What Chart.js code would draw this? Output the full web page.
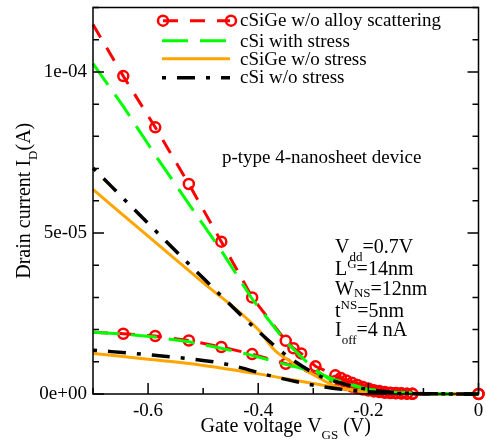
<!DOCTYPE html>
<html>
<head>
<meta charset="utf-8">
<script src="https://cdn.jsdelivr.net/npm/chart.js@4.4.1/dist/chart.umd.min.js"></script>
<style>
  html, body { margin: 0; padding: 0; background: #fff; }
  canvas { display: block; }
</style>
</head>
<body>
<canvas id="iv-chart" width="486" height="445"></canvas>
<script>
// gate voltage (V) and drain current (in units of 1e-5 A)
const vgsRedUp = [-0.70, -0.645, -0.587, -0.526, -0.467, -0.411, -0.350, -0.336, -0.322, -0.296, -0.26, -0.25, -0.24, -0.23, -0.22, -0.21, -0.20, -0.19, -0.18, -0.17, -0.16, -0.15, -0.14, -0.13, -0.12, 0];
const idRedUp  = [11.47, 9.87, 8.28, 6.52, 4.73, 3.00, 1.65, 1.42, 1.26, 0.86, 0.58, 0.50, 0.42, 0.35, 0.28, 0.22, 0.17, 0.12, 0.09, 0.06, 0.04, 0.03, 0.02, 0.01, 0.005, 0];
const vgsRedLo = [-0.70, -0.645, -0.587, -0.526, -0.467, -0.411, -0.350, -0.26, -0.25, -0.24, -0.23, -0.22, -0.21, -0.20, -0.19, -0.18, -0.17, -0.16, -0.15, -0.14, -0.13, -0.12, 0];
const idRedLo  = [1.92, 1.87, 1.80, 1.66, 1.46, 1.24, 0.94, 0.40, 0.34, 0.28, 0.23, 0.18, 0.14, 0.11, 0.08, 0.06, 0.04, 0.03, 0.02, 0.015, 0.01, 0.005, 0];

const vgsGreenUp = [-0.70, -0.645, -0.587, -0.526, -0.467, -0.411, -0.350, -0.30, -0.27, -0.24, -0.20, -0.15, -0.10, 0];
const idGreenUp  = [10.26, 8.93, 7.42, 5.90, 4.45, 2.95, 1.62, 0.80, 0.45, 0.32, 0.14, 0.04, 0.01, 0];
const vgsGreenLo = [-0.70, -0.645, -0.587, -0.526, -0.467, -0.411, -0.350, -0.30, -0.26, -0.236, -0.20, -0.15, -0.10, 0];
const idGreenLo  = [1.92, 1.86, 1.77, 1.62, 1.42, 1.20, 0.92, 0.70, 0.44, 0.33, 0.13, 0.04, 0.01, 0];

const vgsOrangeUp = [-0.70, -0.60, -0.50, -0.40, -0.37, -0.345, -0.30, -0.258, -0.22, -0.18, -0.14, -0.10, 0];
const idOrangeUp  = [6.35, 4.90, 3.46, 2.00, 1.36, 1.05, 0.60, 0.23, 0.10, 0.05, 0.02, 0.01, 0];
const vgsOrangeLo = [-0.70, -0.60, -0.525, -0.405, -0.285, -0.24, -0.20, -0.15, -0.10, 0];
const idOrangeLo  = [1.26, 1.08, 0.95, 0.64, 0.28, 0.15, 0.08, 0.03, 0.01, 0];

const vgsBlackUp = [-0.70, -0.60, -0.50, -0.40, -0.345, -0.285, -0.258, -0.22, -0.18, -0.14, -0.10, 0];
const idBlackUp  = [7.02, 5.30, 3.60, 1.95, 1.15, 0.53, 0.38, 0.20, 0.09, 0.03, 0.01, 0];
const vgsBlackLo = [-0.70, -0.60, -0.465, -0.369, -0.285, -0.24, -0.20, -0.15, -0.10, 0];
const idBlackLo  = [1.36, 1.22, 0.95, 0.53, 0.23, 0.13, 0.07, 0.02, 0.01, 0];

const legendLabels = ['cSiGe w/o alloy scattering', 'cSi with stress', 'cSiGe w/o stress', 'cSi w/o stress'];

const FONT = "'Liberation Serif', 'Times New Roman', serif";
const RED = '#ff0000', GREEN = '#00ff00', ORANGE = '#ffa500', BLACK = '#000000';

function pts(xs, ys) {
  return xs.map((x, i) => ({ x: x, y: ys[i] }));
}

// 1e-5 units -> "1e-04" style label
function sciLabel(k) {
  if (k === 0) return '0e+00';
  const v = k * 1e-5;
  const e = Math.floor(Math.log10(v) + 1e-9);
  const m = Math.round(v / Math.pow(10, e));
  return m + 'e' + (e < 0 ? '-' : '+') + String(Math.abs(e)).padStart(2, '0');
}

const redStyle = {
  borderColor: RED, borderWidth: 3, borderDash: [15, 12],
  pointRadius: c => (c.raw && c.raw.x <= -0.7) ? 0 : 5,
  pointBorderColor: RED, pointBackgroundColor: 'rgba(0,0,0,0)', pointBorderWidth: 2.5,
  order: 3
};
const greenStyle = { borderColor: GREEN, borderWidth: 3, borderDash: [26, 12], pointRadius: 0, order: 1 };
const orangeStyle = { borderColor: ORANGE, borderWidth: 3, pointRadius: 0, order: 2 };
const blackStyle = { borderColor: BLACK, borderWidth: 3.5, borderDash: [4, 11, 18, 11], pointRadius: 0, order: 0 };

// draw "main_sub rest" pieces: [text, size, dy]
function drawRich(ctx, x, y, parts, align) {
  let w = 0;
  parts.forEach(p => { ctx.font = p[1] + 'px ' + FONT; w += ctx.measureText(p[0]).width; });
  let cx = align === 'center' ? x - w / 2 : x;
  ctx.textAlign = 'left';
  ctx.textBaseline = 'alphabetic';
  parts.forEach(p => {
    ctx.font = p[1] + 'px ' + FONT;
    ctx.fillText(p[0], cx, y + (p[2] || 0));
    cx += ctx.measureText(p[0]).width;
  });
}

const frameAndText = {
  id: 'frameAndText',
  afterDraw(chart) {
    const { ctx, chartArea: a, scales: { x, y } } = chart;
    ctx.save();
    ctx.strokeStyle = '#000';
    ctx.lineWidth = 1.5;
    ctx.setLineDash([]);
    ctx.strokeRect(a.left, a.top, a.right - a.left, a.bottom - a.top);

    // inward tick marks
    ctx.beginPath();
    x.ticks.forEach(t => {
      const px = x.getPixelForValue(t.value);
      const len = t.label ? 11 : 6;
      ctx.moveTo(px, a.bottom); ctx.lineTo(px, a.bottom - len);
    });
    y.ticks.forEach(t => {
      const py = y.getPixelForValue(t.value);
      const len = t.label ? 11 : 6;
      ctx.moveTo(a.left, py); ctx.lineTo(a.left + len, py);
      ctx.moveTo(a.right, py); ctx.lineTo(a.right - len, py);
    });
    ctx.stroke();

    // legend
    const rowsLine = [20.7, 40.7, 58.7, 77.7];
    const rowsText = [26, 47, 65, 82.5];
    const dsIdx = [0, 2, 4, 6];
    const x0 = 162, x1 = 230;
    ctx.fillStyle = '#000';
    legendLabels.forEach((lab, i) => {
      const ds = chart.data.datasets[dsIdx[i]];
      ctx.strokeStyle = ds.borderColor;
      ctx.lineWidth = ds.borderWidth;
      ctx.setLineDash(ds.borderDash || []);
      ctx.beginPath();
      ctx.moveTo(x0 + (i === 0 ? 1 : 0), rowsLine[i]);
      ctx.lineTo(x1, rowsLine[i]);
      ctx.stroke();
      if (i === 0) {
        ctx.setLineDash([]);
        ctx.lineWidth = 2.5;
        [163, 231].forEach(cx => {
          ctx.beginPath(); ctx.arc(cx, rowsLine[i], 5, 0, Math.PI * 2); ctx.stroke();
        });
      }
      ctx.setLineDash([]);
      ctx.font = '19px ' + FONT;
      ctx.textAlign = 'left';
      ctx.textBaseline = 'alphabetic';
      ctx.fillText(lab, 240, rowsText[i]);
    });

    // annotations
    ctx.fillStyle = '#000';
    drawRich(ctx, 222, 163, [['p-type 4-nanosheet device', 19]], 'left');
    drawRich(ctx, 335, 253, [['V', 20], ['dd', 13, 8], ['=0.7V', 20]], 'left');
    drawRich(ctx, 335, 275, [['L', 20], ['G', 13, -7], ['=14nm', 20]], 'left');
    drawRich(ctx, 335, 295, [['W', 20], ['NS', 13, 2], ['=12nm', 20]], 'left');
    drawRich(ctx, 335, 316.5, [['t', 20], ['NS', 13, -8], ['=5nm', 20]], 'left');
    drawRich(ctx, 335, 336, [['I', 20], ['off', 13, 8], ['=4 nA', 20]], 'left');

    // axis titles
    drawRich(ctx, (a.left + a.right) / 2, 432, [['Gate voltage V', 20], ['GS', 13, 7], [' (V)', 20]], 'center');
    ctx.save();
    ctx.translate(30, (a.top + a.bottom) / 2);
    ctx.rotate(-Math.PI / 2);
    drawRich(ctx, 0, 0, [['Drain current I', 20], ['D', 13, 7], ['(A)', 20]], 'center');
    ctx.restore();

    ctx.restore();
  }
};

const tickFont = { family: FONT, size: 19 };

new Chart(document.getElementById('iv-chart').getContext('2d'), {
  type: 'scatter',
  data: {
    datasets: [
      Object.assign({ label: legendLabels[0], data: pts(vgsRedUp, idRedUp) }, redStyle),
      Object.assign({ label: legendLabels[0], data: pts(vgsRedLo, idRedLo) }, redStyle),
      Object.assign({ label: legendLabels[1], data: pts(vgsGreenUp, idGreenUp) }, greenStyle),
      Object.assign({ label: legendLabels[1], data: pts(vgsGreenLo, idGreenLo) }, greenStyle),
      Object.assign({ label: legendLabels[2], data: pts(vgsOrangeUp, idOrangeUp), cubicInterpolationMode: 'monotone' }, orangeStyle),
      Object.assign({ label: legendLabels[2], data: pts(vgsOrangeLo, idOrangeLo), cubicInterpolationMode: 'monotone' }, orangeStyle),
      Object.assign({ label: legendLabels[3], data: pts(vgsBlackUp, idBlackUp), cubicInterpolationMode: 'monotone' }, blackStyle),
      Object.assign({ label: legendLabels[3], data: pts(vgsBlackLo, idBlackLo), cubicInterpolationMode: 'monotone' }, blackStyle)
    ].map(d => Object.assign(d, { showLine: true, fill: false, clip: 8 }))
  },
  options: {
    responsive: false,
    animation: false,
    devicePixelRatio: 1,
    events: [],
    layout: { padding: { left: 0, top: 5, right: 5, bottom: 0 } },
    plugins: { legend: { display: false }, tooltip: { enabled: false } },
    scales: {
      x: {
        type: 'linear', min: -0.7, max: 0,
        grid: { display: false, drawTicks: false },
        border: { display: false },
        afterFit: s => { s.height = 51; s.paddingLeft = 0; s.paddingRight = 0; },
        ticks: {
          stepSize: 0.1, autoSkip: false, maxRotation: 0, padding: 6,
          font: tickFont, color: '#000',
          callback: v => {
            const k = Math.round(v * 10);
            if (k % 2 !== 0) return '';
            return k === 0 ? '0' : (k / 10).toFixed(1);
          }
        }
      },
      y: {
        type: 'linear', min: 0, max: 12,
        grid: { display: false, drawTicks: false },
        border: { display: false },
        afterFit: s => { s.width = 93; s.paddingTop = 0; s.paddingBottom = 0; },
        ticks: {
          stepSize: 1, autoSkip: false, padding: 6,
          font: tickFont, color: '#000',
          callback: v => {
            const k = Math.round(v);
            return k % 5 === 0 ? sciLabel(k) : '';
          }
        }
      }
    }
  },
  plugins: [frameAndText]
});
</script>
</body>
</html>
